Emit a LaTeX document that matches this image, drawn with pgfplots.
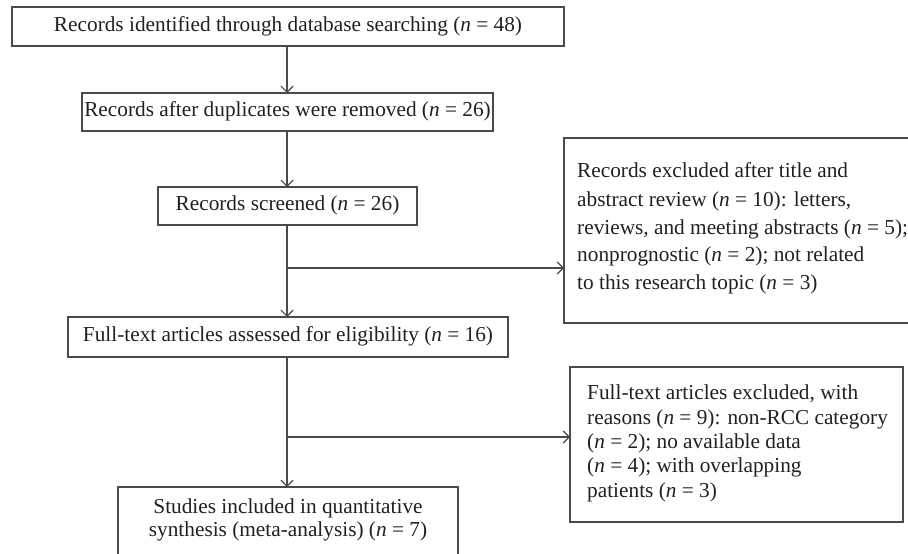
\documentclass[border=0pt]{standalone}
\usepackage{fontspec}
\setmainfont{Liberation Serif}
\usepackage{pgfplots}
\pgfplotsset{compat=1.18}
\usetikzlibrary{arrows.meta}
\definecolor{ln}{HTML}{4A4A4A}
\definecolor{tx}{HTML}{231F20}
\newcommand{\nn}{\textit{n}}
\begin{document}
\begin{tikzpicture}[
  txt/.style={inner sep=0pt, text=tx, font=\fontsize{21.3bp}{25bp}\selectfont},
]
\begin{axis}[scale only axis, width=908bp, height=554bp,
  xmin=0, xmax=908, ymin=0, ymax=554, y dir=reverse, hide axis, clip=true,
  bx/.style={draw=ln, solid, line width=1.2bp, mark=none, line join=miter},
  arr/.style={bx, -{Straight Barb[length=6bp,width=12bp]}},
]
% boxes
\addplot[bx] coordinates {(12,7) (564,7) (564,46) (12,46)} -- cycle;
\addplot[bx] coordinates {(82,93) (493,93) (493,131) (82,131)} -- cycle;
\addplot[bx] coordinates {(158,187) (417,187) (417,225) (158,225)} -- cycle;
\addplot[bx] coordinates {(68,317) (508,317) (508,357) (68,357)} -- cycle;
\addplot[bx] coordinates {(118,487) (458,487) (458,575) (118,575)} -- cycle;
\addplot[bx] coordinates {(564,138) (930,138) (930,323) (564,323)} -- cycle;
\addplot[bx] coordinates {(570,367) (903,367) (903,522) (570,522)} -- cycle;
% arrows
\addplot[arr] coordinates {(287,46) (287,93)};
\addplot[arr] coordinates {(287,131) (287,187)};
\addplot[arr] coordinates {(287,225) (287,317)};
\addplot[arr] coordinates {(287,268) (564,268)};
\addplot[arr] coordinates {(287,357) (287,487)};
\addplot[arr] coordinates {(287,437) (570,437)};
% texts
\node[txt, anchor=base] at (axis cs:288,31.3) {Records identified through database searching (\nn{} = 48)};
\node[txt, anchor=base] at (axis cs:287.5,116.8) {Records after duplicates were removed (\nn{} = 26)};
\node[txt, anchor=base] at (axis cs:287.5,210.8) {Records screened (\nn{} = 26)};
\node[txt, anchor=base] at (axis cs:288,341.8) {Full-text articles assessed for eligibility (\nn{} = 16)};
\node[txt, anchor=base] at (axis cs:288,513.8) {Studies included in quantitative};
\node[txt, anchor=base] at (axis cs:288,536.8) {synthesis (meta-analysis) (\nn{} = 7)};
\node[txt, anchor=base west] at (axis cs:577,177.8) {Records excluded after title and};
\node[txt, anchor=base west] at (axis cs:577,206.5) {abstract review (\nn{} = 10): letters,};
\node[txt, anchor=base west] at (axis cs:577,234.1) {reviews, and meeting abstracts (\nn{} = 5);};
\node[txt, anchor=base west] at (axis cs:577,261.5) {nonprognostic (\nn{} = 2); not related};
\node[txt, anchor=base west] at (axis cs:577,289.8) {to this research topic (\nn{} = 3)};
\node[txt, anchor=base west] at (axis cs:587,399.8) {Full-text articles excluded, with};
\node[txt, anchor=base west] at (axis cs:587,424.8) {reasons (\nn{} = 9): non-RCC category};
\node[txt, anchor=base west] at (axis cs:587,448.8) {(\nn{} = 2); no available data};
\node[txt, anchor=base west] at (axis cs:587,472.8) {(\nn{} = 4); with overlapping};
\node[txt, anchor=base west] at (axis cs:587,497.8) {patients (\nn{} = 3)};
\end{axis}
\pgfresetboundingbox
\useasboundingbox (current axis.south west) rectangle (current axis.north east);
\end{tikzpicture}
\end{document}
